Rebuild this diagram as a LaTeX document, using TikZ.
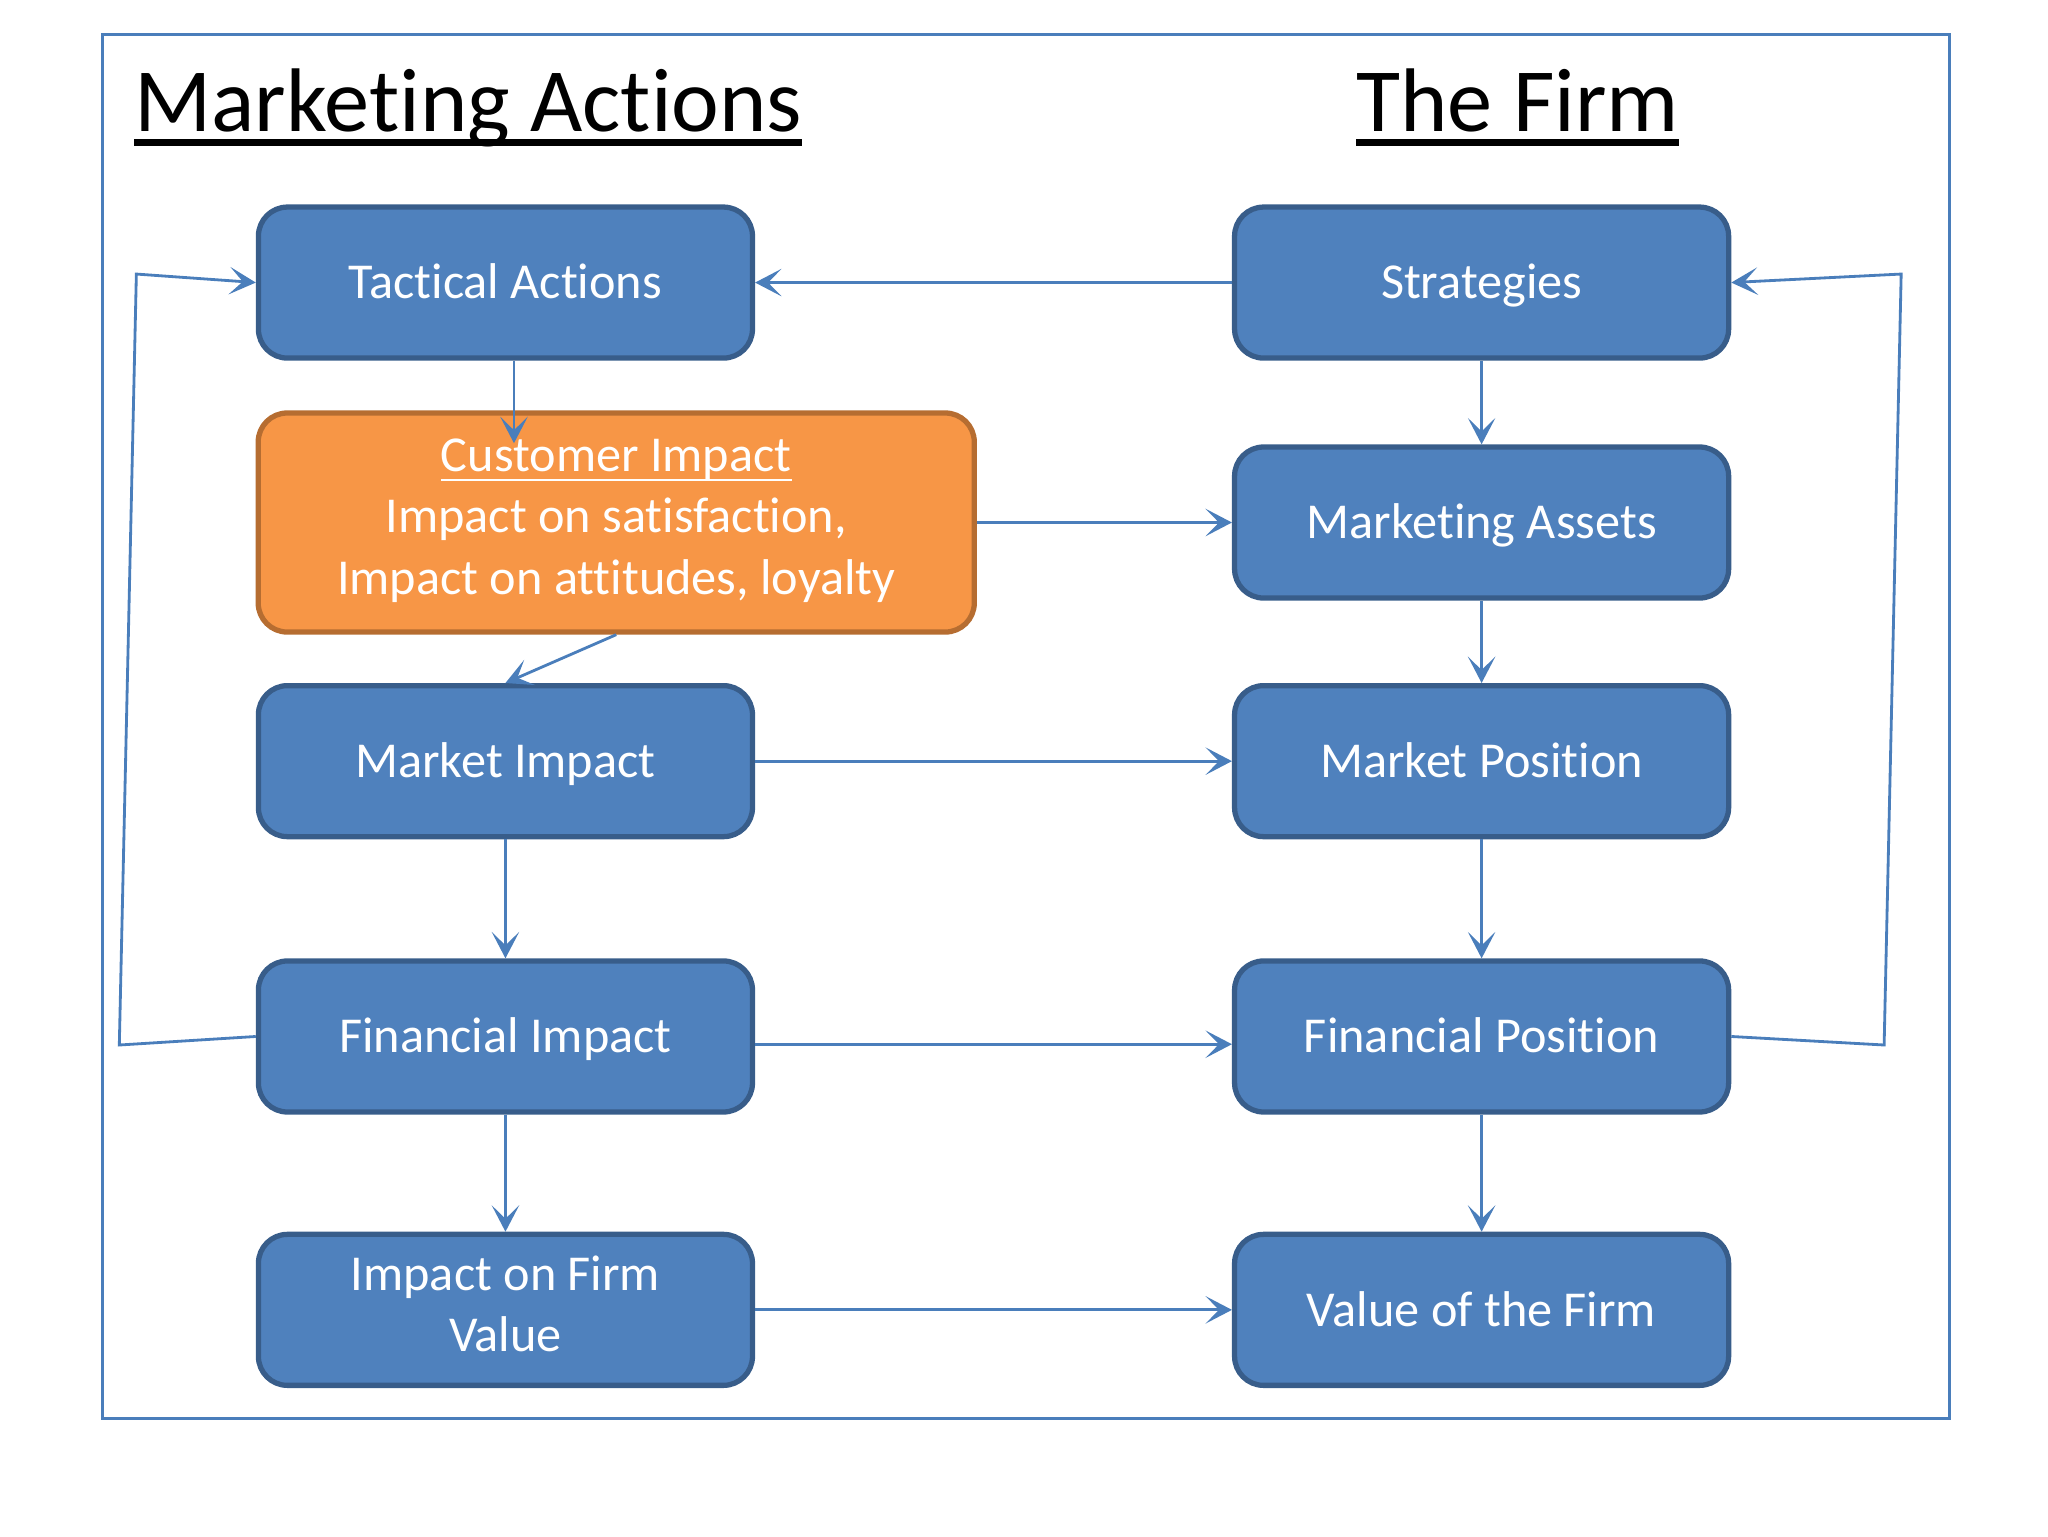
\documentclass[tikz,border=0pt]{standalone}
\usepackage{fontspec}
\setmainfont{Carlito}[Ligatures=NoCommon]
\usetikzlibrary{arrows.meta}

\definecolor{boxfill}{HTML}{4F81BD}
\definecolor{boxline}{HTML}{385D8A}
\definecolor{orangefill}{HTML}{F79646}
\definecolor{orangeline}{HTML}{B66D31}
\definecolor{linkblue}{HTML}{4A7EBB}

% underline with a given depth and thickness
\newcommand{\ulbar}[3]{\setbox0\hbox{#1}\rlap{\rule[-#2]{\wd0}{#3}}\box0}
\newcommand{\boxstrut}{\rule[-3.5pt]{0pt}{16.3pt}}
\newcommand{\tallstrut}{\rule[-3.5pt]{0pt}{19.3pt}}

\tikzset{%
	box/.style={
		rounded corners=2.9mm,
		draw=boxline, fill=boxfill,
		line width=1.5pt,
		minimum width=49.4mm, minimum height=15.1mm,
		inner sep=0pt, align=center,
		text=white,
		font=\fontsize{14.3}{17.5}\selectfont,
		execute at begin node=\boxstrut,
		execute at end node=\boxstrut
	},
	box orange/.style={
		box,
		draw=orangeline, fill=orangefill,
		minimum width=71.6mm, minimum height=21.9mm,
		execute at begin node=\tallstrut
	},
	heading/.style={
		anchor=base west, inner sep=0pt,
		font=\fontsize{25.7}{30}\selectfont
	},
}

\begin{document}
\begin{tikzpicture}[x=0.1311mm, y=-0.1311mm, >={Stealth[length=7.5pt,width=7.8pt,inset=3.8pt]}]
\useasboundingbox (0,0) rectangle (1562,1171.5);
  % frame
\draw[linkblue, line width=0.8pt] (78,26) rectangle (1487,1082);

\node [heading] (head-left) at (102,100) {\ulbar{Marketing Actions}{4.1pt}{1.9pt}};
\node [heading] (head-right) at (1034,100) {\ulbar{The Firm}{4.1pt}{1.9pt}};

\foreach \l/\yy [count=\i] in {Tactical Actions/215.5, Market Impact/580.5, Financial Impact/790.5, {Impact on Firm\\Value}/999}
	\node [box] (action-\i) at (385.5,\yy) {\l};

\node [box orange] (customer) at (470,398.5)
	{\ulbar{Customer Impact}{2.9pt}{0.6pt}\\Impact on satisfaction,\\Impact on attitudes, loyalty};

\foreach \l/\yy [count=\i] in {Strategies/215.5, Marketing Assets/398.5, Market Position/580.5, Financial Position/790.5, Value of the Firm/999}
	\node [box] (firm-\i) at (1130,\yy) {\l};

\coordinate (customer-in) at (392,338);
\coordinate (loop-left-1) at (91,797);
\coordinate (loop-left-2) at (104,209);
\coordinate (loop-right-1) at (1437,797);
\coordinate (loop-right-2) at (1450,209);

\begin{scope}[linkblue, line width=0.8pt]
% down the columns
\draw [->] (action-1.south -| customer-in) -- (customer-in);
\draw [->] (customer.south) -- (action-2.north);
\foreach \i/\j in {2/3,3/4}
	\draw [->] (action-\i) -- (action-\j);
\foreach \i/\j in {1/2,2/3,3/4,4/5}
	\draw [->] (firm-\i) -- (firm-\j);

% across
\draw [->] (firm-1) -- (action-1);
\draw [->] (customer) -- (firm-2);
\draw [->] (action-2) -- (firm-3);
\draw [->] ([yshift=-2.2pt]action-3.east) -- ([yshift=-2.2pt]firm-4.west);
\draw [->] (action-4) -- (firm-5);

% feedback loops
\draw [->] (action-3.west) -- (loop-left-1) -- (loop-left-2) -- (action-1.west);
\draw [->] (firm-4.east) -- (loop-right-1) -- (loop-right-2) -- (firm-1.east);
\end{scope}

\end{tikzpicture}
\end{document}
